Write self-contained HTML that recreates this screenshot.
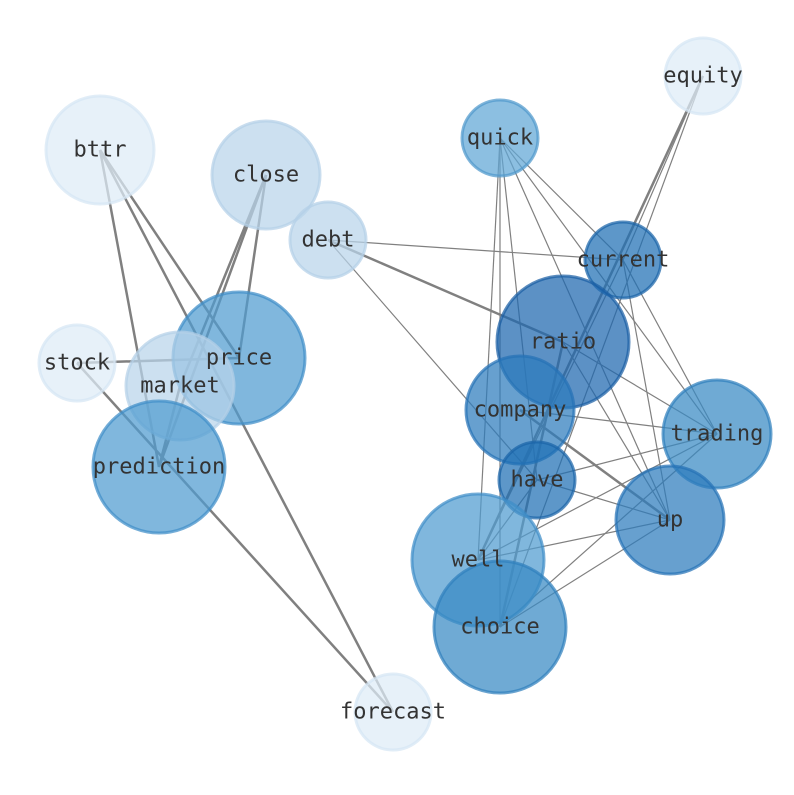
<!DOCTYPE html>
<html><head><meta charset="utf-8"><style>html,body{margin:0;padding:0;background:#fff}</style></head>
<body>
<svg width="794" height="790" viewBox="0 0 794 790" xmlns="http://www.w3.org/2000/svg">
<g stroke="#808080" fill="none">
<g stroke-width="2.5">
<line x1="100" y1="150" x2="159" y2="467"/>
<line x1="100" y1="150" x2="393" y2="712"/>
<line x1="100" y1="150" x2="239" y2="358"/>
<line x1="266" y1="175" x2="159" y2="467"/>
<line x1="266" y1="175" x2="180" y2="386"/>
<line x1="266" y1="175" x2="239" y2="358"/>
<line x1="77" y1="363" x2="239" y2="358"/>
<line x1="77" y1="363" x2="393" y2="712"/>
<line x1="328" y1="240" x2="563" y2="342"/>
<line x1="703" y1="76" x2="478" y2="560"/>
<line x1="520" y1="410" x2="670" y2="520"/>
<line x1="563" y1="342" x2="500" y2="627"/>
<line x1="180" y1="386" x2="159" y2="467"/>
</g>
<g stroke-width="1.2">
<line x1="328" y1="240" x2="623" y2="260"/>
<line x1="328" y1="240" x2="537" y2="480"/>
<line x1="703" y1="76" x2="623" y2="260"/>
<line x1="703" y1="76" x2="500" y2="627"/>
<line x1="500" y1="138" x2="623" y2="260"/>
<line x1="500" y1="138" x2="717" y2="434"/>
<line x1="500" y1="138" x2="670" y2="520"/>
<line x1="500" y1="138" x2="478" y2="560"/>
<line x1="500" y1="138" x2="500" y2="627"/>
<line x1="500" y1="138" x2="537" y2="480"/>
<line x1="623" y1="260" x2="478" y2="560"/>
<line x1="623" y1="260" x2="670" y2="520"/>
<line x1="623" y1="260" x2="717" y2="434"/>
<line x1="563" y1="342" x2="717" y2="434"/>
<line x1="563" y1="342" x2="670" y2="520"/>
<line x1="520" y1="410" x2="717" y2="434"/>
<line x1="537" y1="480" x2="670" y2="520"/>
<line x1="537" y1="480" x2="717" y2="434"/>
<line x1="537" y1="480" x2="478" y2="560"/>
<line x1="717" y1="434" x2="478" y2="560"/>
<line x1="717" y1="434" x2="500" y2="627"/>
<line x1="670" y1="520" x2="478" y2="560"/>
<line x1="670" y1="520" x2="500" y2="627"/>
</g>
</g>
<g stroke-width="3" fill-opacity="0.72" stroke-opacity="0.72">
<circle cx="703" cy="76" r="38" fill="#deebf7" stroke="#d6e6f4"/>
<circle cx="100" cy="150" r="54" fill="#deebf7" stroke="#d6e6f4"/>
<circle cx="266" cy="175" r="54" fill="#b9d4ea" stroke="#b4d0e8"/>
<circle cx="500" cy="138" r="38" fill="#5fa6d6" stroke="#4f98cc"/>
<circle cx="328" cy="240" r="38" fill="#b9d4ea" stroke="#b4d0e8"/>
<circle cx="623" cy="260" r="38" fill="#1f6fb4" stroke="#1b64a8"/>
<circle cx="77" cy="363" r="38" fill="#deebf7" stroke="#d6e6f4"/>
<circle cx="239" cy="358" r="66" fill="#4f9bd0" stroke="#3f8dc8"/>
<circle cx="180" cy="386" r="54" fill="#b9d4ea" stroke="#b4d0e8"/>
<circle cx="563" cy="342" r="66" fill="#1d66ae" stroke="#1b5ea4"/>
<circle cx="520" cy="410" r="54" fill="#2c7bbd" stroke="#2672b6"/>
<circle cx="717" cy="434" r="54" fill="#3789c3" stroke="#2f80bd"/>
<circle cx="537" cy="480" r="38" fill="#1f6fb4" stroke="#1b64a8"/>
<circle cx="670" cy="520" r="54" fill="#2c7bbd" stroke="#2672b6"/>
<circle cx="159" cy="467" r="66" fill="#4f9bd0" stroke="#3f8dc8"/>
<circle cx="478" cy="560" r="66" fill="#4f9bd0" stroke="#3f8dc8"/>
<circle cx="500" cy="627" r="66" fill="#3789c3" stroke="#2f80bd"/>
<circle cx="393" cy="712" r="38" fill="#deebf7" stroke="#d6e6f4"/>
</g>
<g font-family="'DejaVu Sans Mono','Liberation Mono',monospace" font-size="22" fill="#333" text-anchor="middle" dominant-baseline="central">
<text x="703" y="76">equity</text>
<text x="100" y="150">bttr</text>
<text x="266" y="175">close</text>
<text x="500" y="138">quick</text>
<text x="328" y="240">debt</text>
<text x="623" y="260">current</text>
<text x="77" y="363">stock</text>
<text x="239" y="358">price</text>
<text x="180" y="386">market</text>
<text x="563" y="342">ratio</text>
<text x="520" y="410">company</text>
<text x="717" y="434">trading</text>
<text x="537" y="480">have</text>
<text x="670" y="520">up</text>
<text x="159" y="467">prediction</text>
<text x="478" y="560">well</text>
<text x="500" y="627">choice</text>
<text x="393" y="712">forecast</text>
</g>
</svg>
</body></html>
